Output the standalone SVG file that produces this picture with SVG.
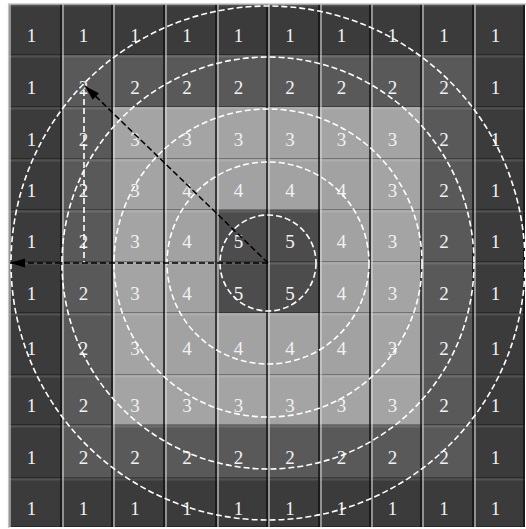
<svg xmlns="http://www.w3.org/2000/svg" width="526" height="529" viewBox="0 0 526 529">
<style>
.l1{fill:#3b3b3b}.l2{fill:#595959}.l3{fill:#a4a4a4}.l4{fill:#a2a2a2}.l5{fill:#4c4c4c}
text{font-family:"Liberation Serif","Times New Roman",serif;font-size:19px;fill:#f2f2f2;text-anchor:middle}
.vd{stroke:#101010;stroke-width:1.8;stroke-opacity:0.8}
.vl{stroke:#dcdcdc;stroke-width:1.8;stroke-opacity:0.6}
.hd{stroke:#000;stroke-width:1.2;stroke-opacity:0.3}
.hl{stroke:#fff;stroke-width:2;stroke-opacity:0.12}
.ring{fill:none;stroke:#fff;stroke-width:1.6;stroke-dasharray:6 3}
.arr{fill:none;stroke:#000;stroke-width:1.5;stroke-dasharray:6 3}
.guide{fill:none;stroke:#fff;stroke-width:1.6;stroke-dasharray:6 3}
</style>
<defs>
<marker id="ah" markerUnits="userSpaceOnUse" markerWidth="16" markerHeight="10" refX="15" refY="4.5" orient="auto"><path d="M0,0 L15,4.5 L0,9 z" fill="#000"/></marker>
</defs>
<rect x="0" y="0" width="526" height="529" fill="#fff"/>
<g id="cells" font-family="Liberation Serif, serif">
<g id="n-0-0"><rect class="l1" x="9" y="4" width="53" height="51"/><text x="31.5" y="41.5">1</text></g>
<g id="n-0-1"><rect class="l1" x="62" y="4" width="51" height="51"/><text x="83.5" y="41.5">1</text></g>
<g id="n-0-2"><rect class="l1" x="113" y="4" width="52" height="51"/><text x="135" y="41.5">1</text></g>
<g id="n-0-3"><rect class="l1" x="165" y="4" width="52" height="51"/><text x="187" y="41.5">1</text></g>
<g id="n-0-4"><rect class="l1" x="217" y="4" width="51" height="51"/><text x="238.5" y="41.5">1</text></g>
<g id="n-0-5"><rect class="l1" x="268" y="4" width="52" height="51"/><text x="290" y="41.5">1</text></g>
<g id="n-0-6"><rect class="l1" x="320" y="4" width="51" height="51"/><text x="341.5" y="41.5">1</text></g>
<g id="n-0-7"><rect class="l1" x="371" y="4" width="51" height="51"/><text x="392.5" y="41.5">1</text></g>
<g id="n-0-8"><rect class="l1" x="422" y="4" width="52" height="51"/><text x="444" y="41.5">1</text></g>
<g id="n-0-9"><rect class="l1" x="474" y="4" width="51" height="51"/><text x="495.5" y="41.5">1</text></g>

<g id="n-1-0"><rect class="l1" x="9" y="55" width="53" height="52"/><text x="31.5" y="93.5">1</text></g>
<g id="n-1-1"><rect class="l2" x="62" y="55" width="51" height="52"/><text x="83.5" y="93.5">2</text></g>
<g id="n-1-2"><rect class="l2" x="113" y="55" width="52" height="52"/><text x="135" y="93.5">2</text></g>
<g id="n-1-3"><rect class="l2" x="165" y="55" width="52" height="52"/><text x="187" y="93.5">2</text></g>
<g id="n-1-4"><rect class="l2" x="217" y="55" width="51" height="52"/><text x="238.5" y="93.5">2</text></g>
<g id="n-1-5"><rect class="l2" x="268" y="55" width="52" height="52"/><text x="290" y="93.5">2</text></g>
<g id="n-1-6"><rect class="l2" x="320" y="55" width="51" height="52"/><text x="341.5" y="93.5">2</text></g>
<g id="n-1-7"><rect class="l2" x="371" y="55" width="51" height="52"/><text x="392.5" y="93.5">2</text></g>
<g id="n-1-8"><rect class="l2" x="422" y="55" width="52" height="52"/><text x="444" y="93.5">2</text></g>
<g id="n-1-9"><rect class="l1" x="474" y="55" width="51" height="52"/><text x="495.5" y="93.5">1</text></g>

<g id="n-2-0"><rect class="l1" x="9" y="107" width="53" height="52"/><text x="31.5" y="145.5">1</text></g>
<g id="n-2-1"><rect class="l2" x="62" y="107" width="51" height="52"/><text x="83.5" y="145.5">2</text></g>
<g id="n-2-2"><rect class="l3" x="113" y="107" width="52" height="52"/><text x="135" y="145.5">3</text></g>
<g id="n-2-3"><rect class="l3" x="165" y="107" width="52" height="52"/><text x="187" y="145.5">3</text></g>
<g id="n-2-4"><rect class="l3" x="217" y="107" width="51" height="52"/><text x="238.5" y="145.5">3</text></g>
<g id="n-2-5"><rect class="l3" x="268" y="107" width="52" height="52"/><text x="290" y="145.5">3</text></g>
<g id="n-2-6"><rect class="l3" x="320" y="107" width="51" height="52"/><text x="341.5" y="145.5">3</text></g>
<g id="n-2-7"><rect class="l3" x="371" y="107" width="51" height="52"/><text x="392.5" y="145.5">3</text></g>
<g id="n-2-8"><rect class="l2" x="422" y="107" width="52" height="52"/><text x="444" y="145.5">2</text></g>
<g id="n-2-9"><rect class="l1" x="474" y="107" width="51" height="52"/><text x="495.5" y="145.5">1</text></g>

<g id="n-3-0"><rect class="l1" x="9" y="159" width="53" height="51"/><text x="31.5" y="196.5">1</text></g>
<g id="n-3-1"><rect class="l2" x="62" y="159" width="51" height="51"/><text x="83.5" y="196.5">2</text></g>
<g id="n-3-2"><rect class="l3" x="113" y="159" width="52" height="51"/><text x="135" y="196.5">3</text></g>
<g id="n-3-3"><rect class="l4" x="165" y="159" width="52" height="51"/><text x="187" y="196.5">4</text></g>
<g id="n-3-4"><rect class="l4" x="217" y="159" width="51" height="51"/><text x="238.5" y="196.5">4</text></g>
<g id="n-3-5"><rect class="l4" x="268" y="159" width="52" height="51"/><text x="290" y="196.5">4</text></g>
<g id="n-3-6"><rect class="l4" x="320" y="159" width="51" height="51"/><text x="341.5" y="196.5">4</text></g>
<g id="n-3-7"><rect class="l3" x="371" y="159" width="51" height="51"/><text x="392.5" y="196.5">3</text></g>
<g id="n-3-8"><rect class="l2" x="422" y="159" width="52" height="51"/><text x="444" y="196.5">2</text></g>
<g id="n-3-9"><rect class="l1" x="474" y="159" width="51" height="51"/><text x="495.5" y="196.5">1</text></g>

<g id="n-4-0"><rect class="l1" x="9" y="210" width="53" height="52"/><text x="31.5" y="248">1</text></g>
<g id="n-4-1"><rect class="l2" x="62" y="210" width="51" height="52"/><text x="83.5" y="248">2</text></g>
<g id="n-4-2"><rect class="l3" x="113" y="210" width="52" height="52"/><text x="135" y="248">3</text></g>
<g id="n-4-3"><rect class="l4" x="165" y="210" width="52" height="52"/><text x="187" y="248">4</text></g>
<g id="n-4-4"><rect class="l5" x="217" y="210" width="51" height="52"/><text x="238.5" y="248">5</text></g>
<g id="n-4-5"><rect class="l5" x="268" y="210" width="52" height="52"/><text x="290" y="248">5</text></g>
<g id="n-4-6"><rect class="l4" x="320" y="210" width="51" height="52"/><text x="341.5" y="248">4</text></g>
<g id="n-4-7"><rect class="l3" x="371" y="210" width="51" height="52"/><text x="392.5" y="248">3</text></g>
<g id="n-4-8"><rect class="l2" x="422" y="210" width="52" height="52"/><text x="444" y="248">2</text></g>
<g id="n-4-9"><rect class="l1" x="474" y="210" width="51" height="52"/><text x="495.5" y="248">1</text></g>

<g id="n-5-0"><rect class="l1" x="9" y="262" width="53" height="51"/><text x="31.5" y="299.5">1</text></g>
<g id="n-5-1"><rect class="l2" x="62" y="262" width="51" height="51"/><text x="83.5" y="299.5">2</text></g>
<g id="n-5-2"><rect class="l3" x="113" y="262" width="52" height="51"/><text x="135" y="299.5">3</text></g>
<g id="n-5-3"><rect class="l4" x="165" y="262" width="52" height="51"/><text x="187" y="299.5">4</text></g>
<g id="n-5-4"><rect class="l5" x="217" y="262" width="51" height="51"/><text x="238.5" y="299.5">5</text></g>
<g id="n-5-5"><rect class="l5" x="268" y="262" width="52" height="51"/><text x="290" y="299.5">5</text></g>
<g id="n-5-6"><rect class="l4" x="320" y="262" width="51" height="51"/><text x="341.5" y="299.5">4</text></g>
<g id="n-5-7"><rect class="l3" x="371" y="262" width="51" height="51"/><text x="392.5" y="299.5">3</text></g>
<g id="n-5-8"><rect class="l2" x="422" y="262" width="52" height="51"/><text x="444" y="299.5">2</text></g>
<g id="n-5-9"><rect class="l1" x="474" y="262" width="51" height="51"/><text x="495.5" y="299.5">1</text></g>

<g id="n-6-0"><rect class="l1" x="9" y="313" width="53" height="62"/><text x="31.5" y="354.5">1</text></g>
<g id="n-6-1"><rect class="l2" x="62" y="313" width="51" height="62"/><text x="83.5" y="354.5">2</text></g>
<g id="n-6-2"><rect class="l3" x="113" y="313" width="52" height="62"/><text x="135" y="354.5">3</text></g>
<g id="n-6-3"><rect class="l4" x="165" y="313" width="52" height="62"/><text x="187" y="354.5">4</text></g>
<g id="n-6-4"><rect class="l4" x="217" y="313" width="51" height="62"/><text x="238.5" y="354.5">4</text></g>
<g id="n-6-5"><rect class="l4" x="268" y="313" width="52" height="62"/><text x="290" y="354.5">4</text></g>
<g id="n-6-6"><rect class="l4" x="320" y="313" width="51" height="62"/><text x="341.5" y="354.5">4</text></g>
<g id="n-6-7"><rect class="l3" x="371" y="313" width="51" height="62"/><text x="392.5" y="354.5">3</text></g>
<g id="n-6-8"><rect class="l2" x="422" y="313" width="52" height="62"/><text x="444" y="354.5">2</text></g>
<g id="n-6-9"><rect class="l1" x="474" y="313" width="51" height="62"/><text x="495.5" y="354.5">1</text></g>

<g id="n-7-0"><rect class="l1" x="9" y="375" width="53" height="50"/><text x="31.5" y="411.5">1</text></g>
<g id="n-7-1"><rect class="l2" x="62" y="375" width="51" height="50"/><text x="83.5" y="411.5">2</text></g>
<g id="n-7-2"><rect class="l3" x="113" y="375" width="52" height="50"/><text x="135" y="411.5">3</text></g>
<g id="n-7-3"><rect class="l3" x="165" y="375" width="52" height="50"/><text x="187" y="411.5">3</text></g>
<g id="n-7-4"><rect class="l3" x="217" y="375" width="51" height="50"/><text x="238.5" y="411.5">3</text></g>
<g id="n-7-5"><rect class="l3" x="268" y="375" width="52" height="50"/><text x="290" y="411.5">3</text></g>
<g id="n-7-6"><rect class="l3" x="320" y="375" width="51" height="50"/><text x="341.5" y="411.5">3</text></g>
<g id="n-7-7"><rect class="l3" x="371" y="375" width="51" height="50"/><text x="392.5" y="411.5">3</text></g>
<g id="n-7-8"><rect class="l2" x="422" y="375" width="52" height="50"/><text x="444" y="411.5">2</text></g>
<g id="n-7-9"><rect class="l1" x="474" y="375" width="51" height="50"/><text x="495.5" y="411.5">1</text></g>

<g id="n-8-0"><rect class="l1" x="9" y="425" width="53" height="53"/><text x="31.5" y="463.5">1</text></g>
<g id="n-8-1"><rect class="l2" x="62" y="425" width="51" height="53"/><text x="83.5" y="463.5">2</text></g>
<g id="n-8-2"><rect class="l2" x="113" y="425" width="52" height="53"/><text x="135" y="463.5">2</text></g>
<g id="n-8-3"><rect class="l2" x="165" y="425" width="52" height="53"/><text x="187" y="463.5">2</text></g>
<g id="n-8-4"><rect class="l2" x="217" y="425" width="51" height="53"/><text x="238.5" y="463.5">2</text></g>
<g id="n-8-5"><rect class="l2" x="268" y="425" width="52" height="53"/><text x="290" y="463.5">2</text></g>
<g id="n-8-6"><rect class="l2" x="320" y="425" width="51" height="53"/><text x="341.5" y="463.5">2</text></g>
<g id="n-8-7"><rect class="l2" x="371" y="425" width="51" height="53"/><text x="392.5" y="463.5">2</text></g>
<g id="n-8-8"><rect class="l2" x="422" y="425" width="52" height="53"/><text x="444" y="463.5">2</text></g>
<g id="n-8-9"><rect class="l1" x="474" y="425" width="51" height="53"/><text x="495.5" y="463.5">1</text></g>

<g id="n-9-0"><rect class="l1" x="9" y="478" width="53" height="49"/><text x="31.5" y="514.5">1</text></g>
<g id="n-9-1"><rect class="l1" x="62" y="478" width="51" height="49"/><text x="83.5" y="514.5">1</text></g>
<g id="n-9-2"><rect class="l1" x="113" y="478" width="52" height="49"/><text x="135" y="514.5">1</text></g>
<g id="n-9-3"><rect class="l1" x="165" y="478" width="52" height="49"/><text x="187" y="514.5">1</text></g>
<g id="n-9-4"><rect class="l1" x="217" y="478" width="51" height="49"/><text x="238.5" y="514.5">1</text></g>
<g id="n-9-5"><rect class="l1" x="268" y="478" width="52" height="49"/><text x="290" y="514.5">1</text></g>
<g id="n-9-6"><rect class="l1" x="320" y="478" width="51" height="49"/><text x="341.5" y="514.5">1</text></g>
<g id="n-9-7"><rect class="l1" x="371" y="478" width="51" height="49"/><text x="392.5" y="514.5">1</text></g>
<g id="n-9-8"><rect class="l1" x="422" y="478" width="52" height="49"/><text x="444" y="514.5">1</text></g>
<g id="n-9-9"><rect class="l1" x="474" y="478" width="51" height="49"/><text x="495.5" y="514.5">1</text></g>
</g>
<g id="bevel">
<line class="hl" x1="9" y1="5.5" x2="525" y2="5.5"/>
<line class="hl" x1="9" y1="56.5" x2="525" y2="56.5"/>
<line class="hl" x1="9" y1="108.5" x2="525" y2="108.5"/>
<line class="hl" x1="9" y1="160.5" x2="525" y2="160.5"/>
<line class="hl" x1="9" y1="211.5" x2="525" y2="211.5"/>
<line class="hl" x1="9" y1="263.5" x2="525" y2="263.5"/>
<line class="hl" x1="9" y1="314.5" x2="525" y2="314.5"/>
<line class="hl" x1="9" y1="376.5" x2="525" y2="376.5"/>
<line class="hl" x1="9" y1="426.5" x2="525" y2="426.5"/>
<line class="hl" x1="9" y1="479.5" x2="525" y2="479.5"/>
<line class="hd" x1="9" y1="54.5" x2="525" y2="54.5"/>
<line class="hd" x1="9" y1="106.5" x2="525" y2="106.5"/>
<line class="hd" x1="9" y1="158.5" x2="525" y2="158.5"/>
<line class="hd" x1="9" y1="209.5" x2="525" y2="209.5"/>
<line class="hd" x1="9" y1="261.5" x2="525" y2="261.5"/>
<line class="hd" x1="9" y1="312.5" x2="525" y2="312.5"/>
<line class="hd" x1="9" y1="374.5" x2="525" y2="374.5"/>
<line class="hd" x1="9" y1="424.5" x2="525" y2="424.5"/>
<line class="hd" x1="9" y1="477.5" x2="525" y2="477.5"/>
<line class="hd" x1="9" y1="526.5" x2="525" y2="526.5"/>
<line class="vl" x1="10" y1="4" x2="10" y2="527"/>
<line class="vl" x1="63" y1="4" x2="63" y2="527"/>
<line class="vl" x1="114" y1="4" x2="114" y2="527"/>
<line class="vl" x1="166" y1="4" x2="166" y2="527"/>
<line class="vl" x1="218" y1="4" x2="218" y2="527"/>
<line class="vl" x1="269" y1="4" x2="269" y2="527"/>
<line class="vl" x1="321" y1="4" x2="321" y2="527"/>
<line class="vl" x1="372" y1="4" x2="372" y2="527"/>
<line class="vl" x1="423" y1="4" x2="423" y2="527"/>
<line class="vl" x1="475" y1="4" x2="475" y2="527"/>
<line class="vd" x1="61" y1="4" x2="61" y2="527"/>
<line class="vd" x1="112" y1="4" x2="112" y2="527"/>
<line class="vd" x1="164" y1="4" x2="164" y2="527"/>
<line class="vd" x1="216" y1="4" x2="216" y2="527"/>
<line class="vd" x1="267" y1="4" x2="267" y2="527"/>
<line class="vd" x1="319" y1="4" x2="319" y2="527"/>
<line class="vd" x1="370" y1="4" x2="370" y2="527"/>
<line class="vd" x1="421" y1="4" x2="421" y2="527"/>
<line class="vd" x1="473" y1="4" x2="473" y2="527"/>
<line class="vd" x1="524" y1="4" x2="524" y2="527"/>
<line x1="8" y1="4" x2="526" y2="4" stroke="#c4c4c4" stroke-width="1.5"/>
<line x1="8.5" y1="4" x2="8.5" y2="528" stroke="#c4c4c4" stroke-width="1.2"/>
</g>
<g id="rings">
<circle class="ring" cx="268" cy="263" r="48"/>
<circle class="ring" cx="268" cy="263" r="101"/>
<circle class="ring" cx="268" cy="263" r="154"/>
<circle class="ring" cx="268" cy="263" r="206"/>
<circle class="ring" cx="268" cy="263" r="257"/>
</g>
<g id="connectors">
<line class="guide" x1="84" y1="90" x2="84" y2="263"/>
<line class="arr" x1="268" y1="263" x2="10" y2="263" marker-end="url(#ah)"/>
<line class="arr" x1="268" y1="263" x2="85" y2="86" marker-end="url(#ah)"/>
</g>
</svg>
